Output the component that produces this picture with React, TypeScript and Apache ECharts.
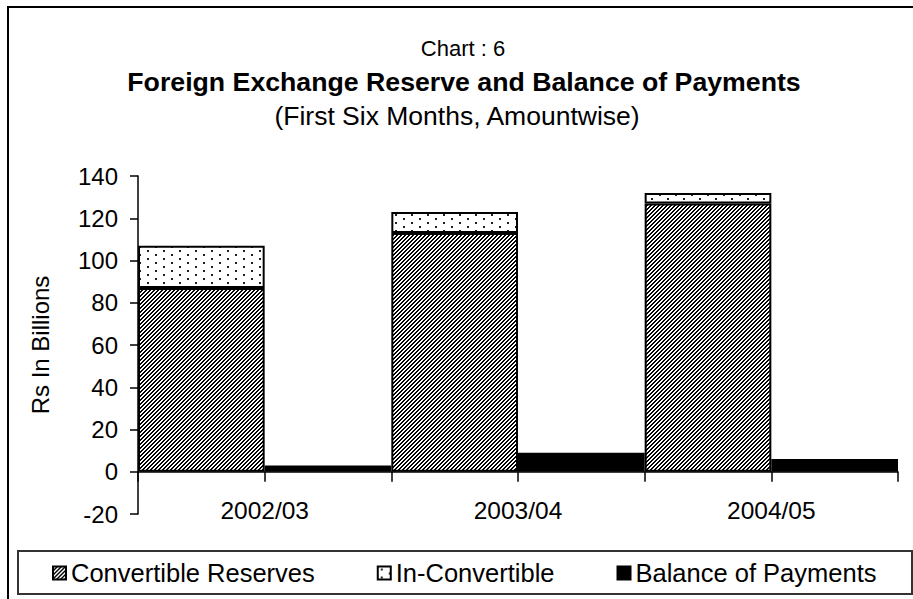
import React, { useEffect, useRef } from "react";
import * as echarts from "echarts";

const categories = ["2002/03", "2003/04", "2004/05"];
const convertibleReserves = [87, 113, 127];
const inConvertible = [20, 10, 5];
const balanceOfPayments = [3, 9, 6];
const seriesNames = ["Convertible Reserves", "In-Convertible", "Balance of Payments"];
const yMin = -20;
const yMax = 140;
const yInterval = 20;

const FONT = "'Liberation Sans', Arial, sans-serif";

function makeHatch(): HTMLCanvasElement {
  const c = document.createElement("canvas");
  c.width = 4;
  c.height = 4;
  const ctx = c.getContext("2d")!;
  ctx.fillStyle = "#fff";
  ctx.fillRect(0, 0, 4, 4);
  ctx.fillStyle = "#000";
  for (let y = 0; y < 4; y++) {
    const x1 = (3 - y + 4) % 4;
    const x2 = (4 - y) % 4;
    ctx.fillRect(x1, y, 1, 1);
    ctx.fillRect(x2, y, 1, 1);
  }
  return c;
}

function makeDots(): HTMLCanvasElement {
  const c = document.createElement("canvas");
  c.width = 16;
  c.height = 8;
  const ctx = c.getContext("2d")!;
  ctx.fillStyle = "#fff";
  ctx.fillRect(0, 0, 16, 8);
  ctx.fillStyle = "#222";
  ctx.fillRect(3, 2, 2, 2);
  ctx.fillRect(11, 6, 2, 2);
  return c;
}

export default function App() {
  const ref = useRef<HTMLDivElement>(null);

  useEffect(() => {
    if (!ref.current) return;
    const chart = echarts.init(ref.current, undefined, { renderer: "svg" });
    const hatch = { image: makeHatch(), repeat: "repeat" };
    const dots = { image: makeDots(), repeat: "repeat" };
    const halfSlots = categories.flatMap((c) => [c + "-a", c + "-b"]);

    chart.setOption({
      animation: false,
      backgroundColor: "#fff",
      textStyle: { fontFamily: FONT, color: "#000" },
      title: [
        {
          text: "Chart : 6",
          left: 463,
          top: 37,
          padding: 0,
          textAlign: "center",
          textStyle: { fontFamily: FONT, fontSize: 22, fontWeight: "normal", color: "#000" },
        },
        {
          text: "Foreign Exchange Reserve and Balance of Payments",
          left: 464,
          top: 68,
          padding: 0,
          textAlign: "center",
          textStyle: { fontFamily: FONT, fontSize: 26.7, fontWeight: "bold", color: "#000" },
        },
        {
          text: "(First Six Months, Amountwise)",
          left: 457,
          top: 102,
          padding: 0,
          textAlign: "center",
          textStyle: { fontFamily: FONT, fontSize: 26.5, fontWeight: "normal", color: "#000" },
        },
      ],
      graphic: [
        {
          type: "rect",
          shape: { x: 8, y: 7, width: 1000, height: 1000 },
          style: { fill: "none", stroke: "#000", lineWidth: 2 },
          silent: true,
          z: 0,
        },
        {
          type: "rect",
          shape: { x: 18, y: 551, width: 894, height: 43 },
          style: { fill: "#fff", stroke: "#333", lineWidth: 2 },
          silent: true,
          z: 1,
        },
      ],
      legend: {
        data: seriesNames,
        left: 52,
        top: 560,
        padding: 0,
        itemGap: 62,
        itemWidth: 13,
        itemHeight: 13,
        icon: "rect",
        z: 5,
        textStyle: { fontFamily: FONT, fontSize: 25.5, color: "#000" },
      },
      grid: { left: 138, right: 15, top: 176, bottom: 85, outerBoundsMode: "none" },
      xAxis: [
        {
          type: "category",
          data: categories,
          position: "bottom",
          axisLine: { show: false, onZero: false },
          axisTick: { show: false },
          axisLabel: { margin: -16, fontSize: 24.5, color: "#000", fontFamily: FONT },
          splitLine: { show: false },
        },
        {
          type: "category",
          data: halfSlots,
          position: "bottom",
          axisLine: { show: true, onZero: true, onZeroAxisIndex: 0, lineStyle: { color: "#000", width: 1.5 } },
          axisTick: { show: true, length: 10, lineStyle: { color: "#000", width: 1.5 } },
          axisLabel: { show: false },
          splitLine: { show: false },
        },
      ],
      yAxis: {
        type: "value",
        min: yMin,
        max: yMax,
        interval: yInterval,
        name: "Rs In Billions",
        nameLocation: "middle",
        nameGap: 86,
        nameRotate: 90,
        nameTextStyle: { fontFamily: FONT, fontSize: 24, color: "#000" },
        axisLine: { show: true, lineStyle: { color: "#000", width: 1.5 } },
        axisTick: { show: true, length: 8, lineStyle: { color: "#000", width: 1.5 } },
        axisLabel: { margin: 20, fontSize: 24, color: "#000", fontFamily: FONT },
        splitLine: { show: false },
      },
      series: [
        {
          name: seriesNames[0],
          type: "bar",
          stack: "reserve",
          data: convertibleReserves,
          barGap: "0%",
          barCategoryGap: "0%",
          itemStyle: { color: hatch, borderColor: "#000", borderWidth: 2 },
        },
        {
          name: seriesNames[1],
          type: "bar",
          stack: "reserve",
          data: inConvertible,
          itemStyle: { color: dots, borderColor: "#000", borderWidth: 2 },
        },
        {
          name: seriesNames[2],
          type: "bar",
          data: balanceOfPayments,
          barGap: "0%",
          barCategoryGap: "0%",
          itemStyle: { color: "#000", borderColor: "#000", borderWidth: 2 },
        },
      ],
    });
    return () => chart.dispose();
  }, []);

  return (
    <div
      ref={ref}
      style={{ position: "fixed", left: 0, top: 0, width: 913, height: 599, background: "#fff" }}
    />
  );
}
